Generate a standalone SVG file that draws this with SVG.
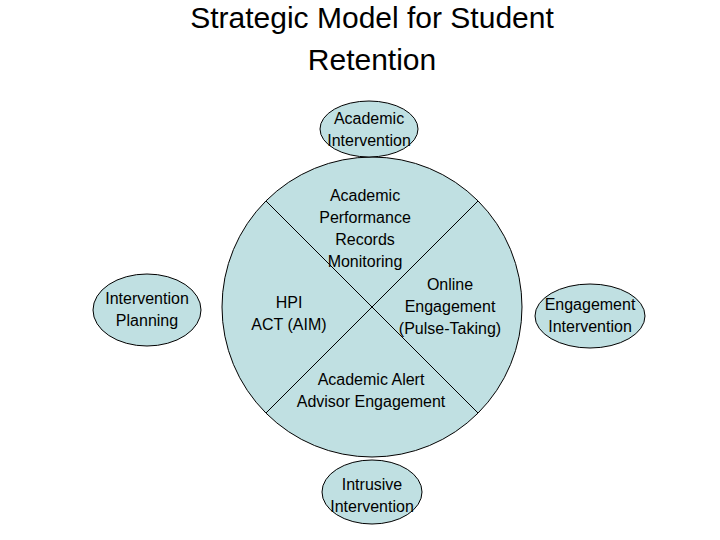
<svg xmlns="http://www.w3.org/2000/svg" width="720" height="540" viewBox="0 0 720 540">
<style>
.n{fill:#c0e0e2;stroke:#000;stroke-width:1}
.t{font-family:"Liberation Sans",Arial,sans-serif;font-size:16px;text-anchor:middle;fill:#000}
.h{font-family:"Liberation Sans",Arial,sans-serif;font-size:30px;text-anchor:middle;fill:#000}
</style>
<rect width="720" height="540" fill="#fff"/>
<text class="h" x="372" y="28">Strategic Model for Student</text>
<text class="h" x="372" y="70">Retention</text>
<g id="hub">
<circle class="n" cx="372" cy="307" r="150"/>
</g>
<g id="connectors" stroke="#000" stroke-width="1">
<line x1="266" y1="201" x2="478" y2="413"/>
<line x1="478" y1="201" x2="266" y2="413"/>
</g>
<g id="apr"><text class="t" x="365" y="201">Academic</text><text class="t" x="365" y="223">Performance</text><text class="t" x="365" y="245">Records</text><text class="t" x="365" y="267">Monitoring</text></g>
<g id="hpi"><text class="t" x="289" y="308">HPI</text><text class="t" x="289" y="330">ACT (AIM)</text></g>
<g id="online"><text class="t" x="450" y="290">Online</text><text class="t" x="450" y="312">Engagement</text><text class="t" x="450" y="334">(Pulse-Taking)</text></g>
<g id="alert"><text class="t" x="371" y="385">Academic Alert</text><text class="t" x="371" y="407">Advisor Engagement</text></g>
<g id="top"><ellipse class="n" cx="369" cy="129" rx="49" ry="28"/><text class="t" x="369" y="124">Academic</text><text class="t" x="369" y="146">Intervention</text></g>
<g id="left"><ellipse class="n" cx="147" cy="310" rx="54" ry="36"/><text class="t" x="147" y="304">Intervention</text><text class="t" x="147" y="326">Planning</text></g>
<g id="right"><ellipse class="n" cx="590" cy="316" rx="55" ry="32"/><text class="t" x="590" y="310">Engagement</text><text class="t" x="590" y="332">Intervention</text></g>
<g id="bottom"><ellipse class="n" cx="372" cy="492" rx="50" ry="32"/><text class="t" x="372" y="490">Intrusive</text><text class="t" x="372" y="512">Intervention</text></g>
</svg>
